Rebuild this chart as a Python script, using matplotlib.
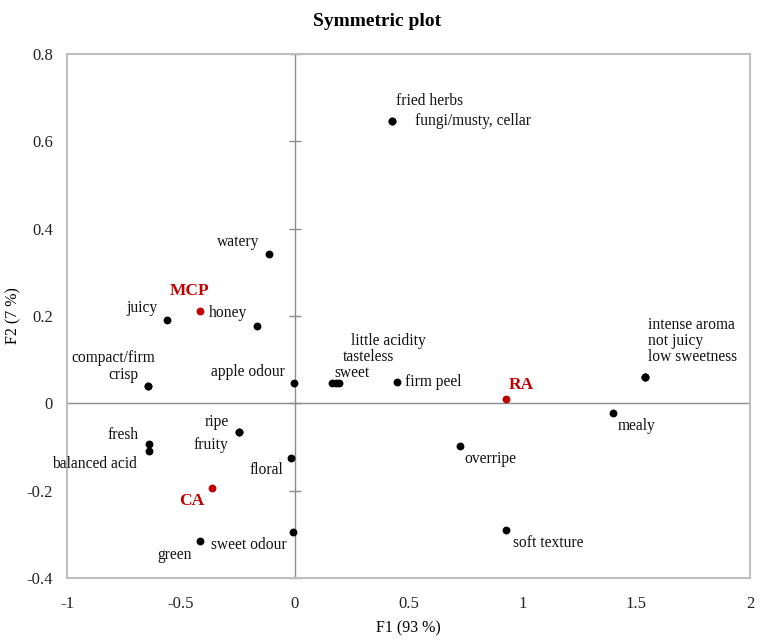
import matplotlib
matplotlib.use("Agg")
import matplotlib.pyplot as plt
import numpy as np

# ---- data ----
attr_names = ["fried herbs", "fungi/musty, cellar", "watery", "juicy", "honey",
              "compact/firm", "crisp", "apple odour", "sweet", "tasteless",
              "little acidity", "firm peel", "intense aroma", "not juicy",
              "low sweetness", "mealy", "overripe", "soft texture", "ripe",
              "fruity", "fresh", "balanced acid", "floral", "sweet odour", "green"]
attr_f1 = [0.426, 0.426, -0.114, -0.562, -0.167,
           -0.646, -0.646, -0.004, 0.165, 0.180,
           0.193, 0.448, 1.537, 1.537,
           1.537, 1.397, 0.725, 0.927, -0.246,
           -0.246, -0.641, -0.641, -0.018, -0.009, -0.417]
attr_f2 = [0.646, 0.646, 0.343, 0.190, 0.176,
           0.039, 0.039, 0.046, 0.046, 0.046,
           0.046, 0.050, 0.060, 0.060,
           0.060, -0.023, -0.098, -0.289, -0.066,
           -0.066, -0.094, -0.110, -0.126, -0.295, -0.316]

prod_names = ["MCP", "RA", "CA"]
prod_f1 = [-0.417, 0.927, -0.365]
prod_f2 = [0.211, 0.011, -0.195]

x_ticks = [-1, -0.5, 0, 0.5, 1, 1.5, 2]
x_ticklabels = ["-1", "-0.5", "0", "0.5", "1", "1.5", "2"]
y_ticks = [-0.4, -0.2, 0, 0.2, 0.4, 0.6, 0.8]
y_ticklabels = ["-0.4", "-0.2", "0", "0.2", "0.4", "0.6", "0.8"]

# ---- label placement (pixel offsets, alignment) ----
attr_offsets = {
    "fried herbs": (4, 20, "left"),
    "fungi/musty, cellar": (23, 0, "left"),
    "watery": (-9, 12, "right"),
    "juicy": (-9, 12, "right"),
    "honey": (-10, 13, "right"),
    "compact/firm": (8, 28, "right"),
    "crisp": (-9, 11, "right"),
    "apple odour": (-9, 11, "right"),
    "sweet": (2, 10, "left"),
    "tasteless": (7, 26, "left"),
    "little acidity": (12, 42, "left"),
    "firm peel": (8, 0, "left"),
    "intense aroma": (3, 52, "left"),
    "not juicy": (3, 36, "left"),
    "low sweetness": (3, 20, "left"),
    "mealy": (5, -13, "left"),
    "overripe": (5, -13, "left"),
    "soft texture": (7, -13, "left"),
    "ripe": (-10, 10, "right"),
    "fruity": (-10, -13, "right"),
    "fresh": (-10, 9, "right"),
    "balanced acid": (-12, -13, "right"),
    "floral": (-7, -12, "right"),
    "sweet odour": (-6, -13, "right"),
    "green": (-8, -14, "right"),
}
prod_offsets = {
    "MCP": (-10, 20, "center"),
    "RA": (3, 14, "left"),
    "CA": (-7, -13, "right"),
}

serif = ["Liberation Serif", "DejaVu Serif"]
plt.rcParams["font.family"] = serif

red = "#c00000"
fig = plt.figure(figsize=(7.6, 6.41), dpi=100)
ax = fig.add_axes([67 / 760, 1 - 578 / 641, (750 - 67) / 760, (578 - 54) / 641])

ax.set_xlim(x_ticks[0], x_ticks[-1])
ax.set_ylim(y_ticks[0], y_ticks[-1])

ax.axhline(0, color="#8c8c8c", lw=1.0, zorder=1)
ax.axvline(0, color="#8c8c8c", lw=1.0, zorder=1)
# small tick marks along the vertical centre line
ax.plot(np.zeros(len(y_ticks)), y_ticks, ls="none", marker="_", ms=8,
        mew=1.0, color="#8c8c8c", zorder=1, clip_on=False)

for s in ax.spines.values():
    s.set_color("#bfbfbf")
    s.set_linewidth(1.5)

ax.set_xticks(x_ticks)
ax.set_xticklabels(x_ticklabels)
ax.set_yticks(y_ticks)
ax.set_yticklabels(y_ticklabels)
ax.tick_params(axis="both", length=0, labelsize=12, colors="#222222")
ax.tick_params(axis="x", pad=13)
ax.tick_params(axis="y", pad=10)

ax.scatter(attr_f1, attr_f2, s=32, color="black", zorder=3, linewidths=0)
ax.scatter(prod_f1, prod_f2, s=32, color=red, zorder=3, linewidths=0)

for n, x, y in zip(attr_names, attr_f1, attr_f2):
    dx, dy, ha = attr_offsets[n]
    ax.annotate(n, (x, y), xytext=(dx, dy), textcoords="offset pixels",
                ha=ha, va="center", fontsize=11.2, color="#111111")
for n, x, y in zip(prod_names, prod_f1, prod_f2):
    dx, dy, ha = prod_offsets[n]
    ax.annotate(n, (x, y), xytext=(dx, dy), textcoords="offset pixels",
                ha=ha, va="center", fontsize=12.5, color=red, fontweight="bold")

fig.text(377 / 760, 1 - 22 / 641, "Symmetric plot", ha="center", va="center",
         fontsize=14, fontweight="bold")
fig.text(408 / 760, 1 - 628 / 641, "F1 (93 %)", ha="center", va="center", fontsize=11.5)
fig.text(13 / 760, 1 - 316 / 641, "F2 (7 %)", ha="center", va="center",
         fontsize=11.5, rotation=90)

fig.savefig("out.png", dpi=100)
